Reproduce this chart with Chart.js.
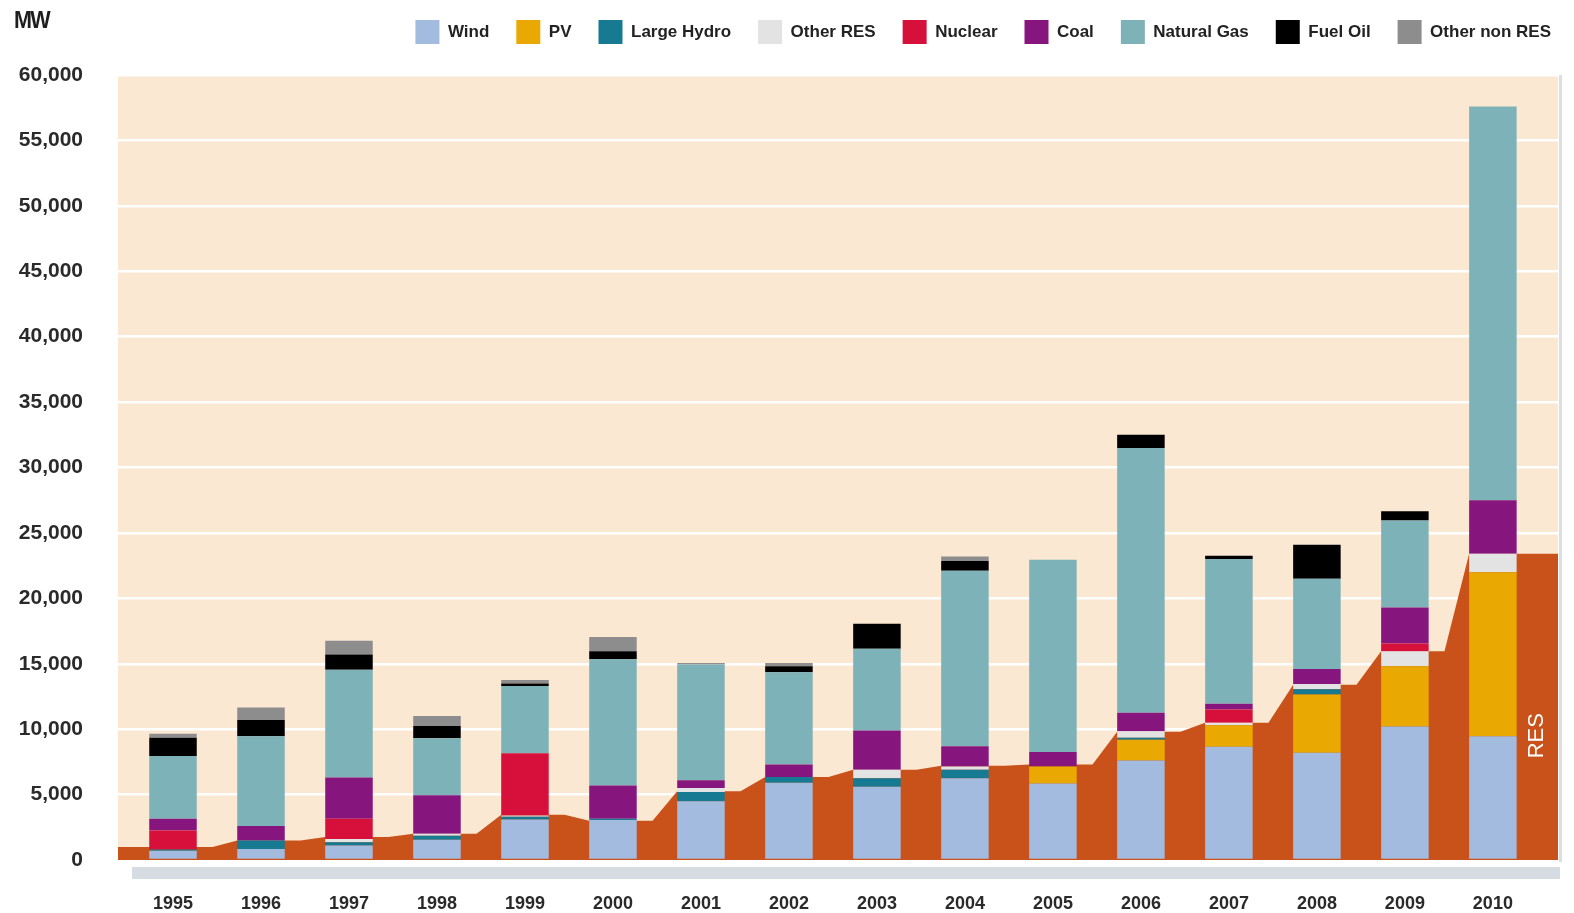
<!DOCTYPE html>
<html>
<head>
<meta charset="utf-8">
<script src="https://cdn.jsdelivr.net/npm/chart.js@4.4.1/dist/chart.umd.min.js"></script>
<style>
  body { margin: 0; background: #ffffff; }
  #wrap { position: relative; width: 1574px; height: 913px; }
  #unit {
    position: absolute; left: 14px; top: 6px;
    font: bold 24px 'Liberation Sans', Arial, sans-serif;
    color: #1e1e1e; letter-spacing: -2px; transform: scaleX(0.9); transform-origin: left top;
  }
</style>
</head>
<body>
<div id="wrap">
  <div id="unit">MW</div>
  <canvas id="capacity_chart" width="1574" height="913"></canvas>
</div>
<script>
// new capacity per year, MW
const years = [1995, 1996, 1997, 1998, 1999, 2000, 2001, 2002, 2003, 2004, 2005, 2006, 2007, 2008, 2009, 2010];
const wind        = [700, 850, 1100, 1550, 3100, 3050, 4500, 5900, 5600, 6250, 5850, 7600, 8650, 8200, 10200, 9450];
const pv          = [0, 0, 0, 0, 0, 0, 0, 0, 0, 0, 1300, 1600, 1650, 4450, 4600, 12550];
const largeHydro  = [100, 650, 250, 300, 200, 100, 700, 450, 650, 650, 0, 150, 0, 400, 0, 0];
const otherRes    = [0, 0, 250, 150, 100, 0, 300, 0, 650, 250, 0, 500, 200, 400, 1150, 1400];
const nuclear     = [1450, 0, 1550, 0, 4750, 0, 0, 0, 0, 0, 0, 0, 1000, 0, 600, 0];
const coal        = [900, 1100, 3150, 2950, 0, 2550, 600, 950, 3000, 1550, 1100, 1400, 450, 1150, 2750, 4100];
const naturalGas  = [4800, 6850, 8250, 4350, 5150, 9650, 8850, 7050, 6250, 13400, 14700, 20250, 11050, 6900, 6650, 30100];
const fuelOil     = [1400, 1250, 1150, 950, 200, 600, 0, 450, 1900, 750, 0, 1000, 250, 2600, 700, 0];
const otherNonRes = [300, 950, 1050, 750, 250, 1100, 100, 250, 0, 350, 0, 0, 0, 0, 0, 0];
// RES total drawn as the area behind the bars
const resTotal    = [1000, 1500, 1750, 2000, 3450, 3000, 5250, 6350, 6900, 7200, 7300, 9800, 10500, 13400, 15950, 23400];

const yTicks = [0, 5000, 10000, 15000, 20000, 25000, 30000, 35000, 40000, 45000, 50000, 55000, 60000];

const X_MIN = years[0] - 0.625;
const X_MAX = years[years.length - 1] + 0.74;

// area points: flat across each bar, rising in the gap before the next one
let resPoints = [{x: X_MIN, y: resTotal[0]}];
years.forEach(function (yr, i) {
    resPoints.push({x: yr - 0.27, y: resTotal[i]});
    resPoints.push({x: yr + 0.45, y: resTotal[i]});
});
resPoints.push({x: X_MAX, y: resTotal[resTotal.length - 1]});

function barSet(label, data, color) {
    return {
        type: "bar",
        label: label,
        data: data,
        backgroundColor: color,
        borderWidth: 0,
        stack: "gen",
        order: 1
    };
}

const plotBackground = {
    id: "plotBackground",
    beforeDraw: function (chart) {
        const ctx = chart.ctx;
        const a = chart.chartArea;
        ctx.save();
        ctx.fillStyle = "#fae8d3";
        ctx.fillRect(a.left, a.top, a.right - a.left, a.bottom - a.top);
        ctx.fillStyle = "#d5dde2";
        ctx.fillRect(a.left + 14, a.bottom + 7, a.right - a.left - 12, 12);
        ctx.fillStyle = "#dedede";
        ctx.fillRect(a.right + 1, a.top, 3, a.bottom - a.top + 2);
        ctx.restore();
    },
    afterDatasetsDraw: function (chart) {
        const ctx = chart.ctx;
        const a = chart.chartArea;
        const y = chart.scales.y.getPixelForValue(9500);
        ctx.save();
        ctx.translate(a.right - 21, y);
        ctx.rotate(-Math.PI / 2);
        ctx.fillStyle = "#ffffff";
        ctx.font = "22px 'Liberation Sans', Arial, sans-serif";
        ctx.textAlign = "center";
        ctx.textBaseline = "middle";
        ctx.fillText("RES", 0, 0);
        ctx.restore();
    }
};

// push plot down under the legend, and pull legend to the right edge
const legendSpacing = {
    id: "legendSpacing",
    beforeInit: function (chart) {
        const fit = chart.legend.fit;
        chart.legend.fit = function () {
            fit.bind(chart.legend)();
            this.height += 21;
        };
    },
    afterLayout: function (chart) {
        chart.legend.right += 20;
    }
};

new Chart("capacity_chart", {
    data: {
        labels: years,
        datasets: [
            barSet("Wind", wind, "#a2bbdf"),
            barSet("PV", pv, "#e9a902"),
            barSet("Large Hydro", largeHydro, "#157a92"),
            barSet("Other RES", otherRes, "#e4e3e4"),
            barSet("Nuclear", nuclear, "#d6103a"),
            barSet("Coal", coal, "#86167d"),
            barSet("Natural Gas", naturalGas, "#7db2b8"),
            barSet("Fuel Oil", fuelOil, "#000000"),
            barSet("Other non RES", otherNonRes, "#8d8d8d"),
            {
                type: "line",
                label: "RES",
                data: resPoints,
                backgroundColor: "#c9521b",
                borderWidth: 0,
                pointRadius: 0,
                tension: 0,
                fill: "origin",
                stack: "res",
                order: 10
            }
        ]
    },
    options: {
        responsive: false,
        animation: false,
        devicePixelRatio: 1,
        layout: {
            padding: {left: 15, right: 16, top: -7, bottom: 0}
        },
        datasets: {
            bar: {categoryPercentage: 1, barPercentage: 0.54}
        },
        plugins: {
            legend: {
                position: "top",
                align: "end",
                labels: {
                    boxWidth: 24,
                    boxHeight: 24,
                    padding: 27,
                    color: "#222222",
                    font: {family: "'Liberation Sans', Arial, sans-serif", size: 17, weight: "bold"},
                    filter: function (item) { return item.text !== "RES"; }
                }
            },
            tooltip: {enabled: false},
            title: {display: false}
        },
        scales: {
            x: {
                type: "linear",
                offset: false,
                min: X_MIN,
                max: X_MAX,
                stacked: true,
                grid: {display: false, offset: false},
                border: {display: false},
                afterBuildTicks: function (scale) {
                    scale.ticks = years.map(function (v) { return {value: v}; });
                },
                afterFit: function (scale) { scale.height = 53; },
                ticks: {
                    padding: 25,
                    maxRotation: 0,
                    autoSkip: false,
                    color: "#2a2a2a",
                    font: {family: "'Liberation Sans', Arial, sans-serif", size: 18, weight: "bold"},
                    callback: function (value) { return String(value); }
                }
            },
            y: {
                stacked: true,
                min: 0,
                max: 60000,
                afterBuildTicks: function (scale) {
                    scale.ticks = yTicks.map(function (v) { return {value: v}; });
                },
                afterFit: function (scale) { scale.width = 103; },
                grid: {color: "#ffffff", lineWidth: 2.5, drawTicks: false},
                border: {display: false},
                ticks: {
                    padding: 35,
                    color: "#2a2a2a",
                    font: {family: "'Liberation Sans', Arial, sans-serif", size: 21, weight: "bold"},
                    callback: function (value) { return value.toLocaleString("en-US"); }
                }
            }
        }
    },
    plugins: [plotBackground, legendSpacing]
});
</script>
</body>
</html>
